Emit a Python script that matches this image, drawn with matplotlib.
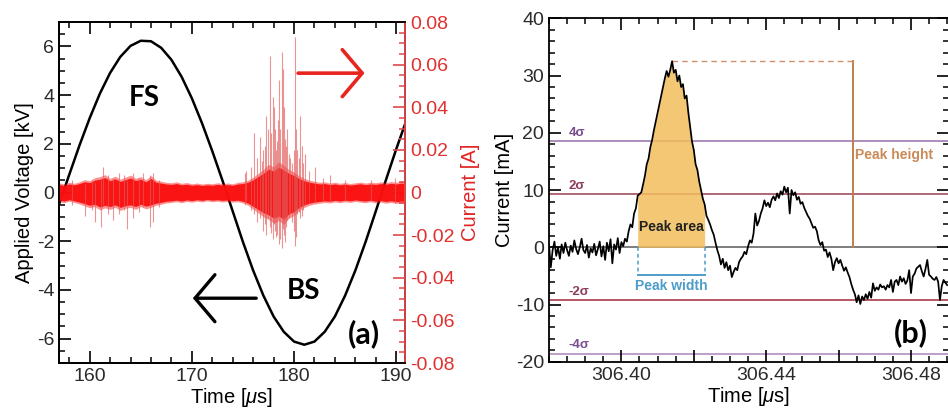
from __future__ import annotations

import matplotlib

matplotlib.use("Agg")

import matplotlib.pyplot as plt
import numpy as np
from matplotlib.ticker import FixedLocator, FuncFormatter, MultipleLocator


# ---------------- panel (a): applied voltage + discharge current ----------------
volt_time_us = [157, 158, 159, 160, 161, 162, 163, 164, 165, 166, 167, 168, 169, 170, 171, 172,
                173, 174, 175, 176, 177, 178, 179, 180, 181, 182, 183, 184, 185, 186, 187, 188,
                189, 190, 191]
volt_kv = [-0.49, 0.73, 1.93, 3.05, 4.06, 4.91, 5.57, 6.02, 6.23, 6.21, 5.94, 5.45, 4.75, 3.87,
           2.84, 1.70, 0.49, -0.77, -2.03, -3.20, -4.23, -5.09, -5.72, -6.12, -6.25, -6.12, -5.72,
           -5.09, -4.23, -3.20, -2.03, -0.77, 0.52, 1.78, 2.97]

# envelope of the dense noise band of the current signal (every 0.5 us)
band_time_us = [157.0, 157.5, 158.0, 158.5, 159.0, 159.5, 160.0, 160.5, 161.0, 161.5, 162.0,
                162.5, 163.0, 163.5, 164.0, 164.5, 165.0, 165.5, 166.0, 166.5, 167.0, 167.5,
                168.0, 168.5, 169.0, 169.5, 170.0, 170.5, 171.0, 171.5, 172.0, 172.5, 173.0,
                173.5, 174.0, 174.5, 175.0, 175.5, 176.0, 176.5, 177.0, 177.5, 178.0, 178.5,
                179.0, 179.5, 180.0, 180.5, 181.0, 181.5, 182.0, 182.5, 183.0, 183.5, 184.0,
                184.5, 185.0, 185.5, 186.0, 186.5, 187.0, 187.5, 188.0, 188.5, 189.0, 189.5,
                190.0, 190.5, 191.0]
band_hi_a = [0.0038, 0.0033, 0.0040, 0.0036, 0.0042, 0.0050, 0.0046, 0.0058, 0.0062, 0.0070,
             0.0055, 0.0064, 0.0052, 0.0060, 0.0068, 0.0056, 0.0062, 0.0050, 0.0066, 0.0048,
             0.0044, 0.0040, 0.0038, 0.0042, 0.0036, 0.0039, 0.0034, 0.0037, 0.0033, 0.0036,
             0.0034, 0.0038, 0.0035, 0.0037, 0.0034, 0.0040, 0.0042, 0.0048, 0.0060, 0.0075,
             0.0090, 0.0110, 0.0100, 0.0120, 0.0105, 0.0090, 0.0080, 0.0065, 0.0055, 0.0048,
             0.0044, 0.0040, 0.0042, 0.0037, 0.0040, 0.0036, 0.0039, 0.0035, 0.0038, 0.0041,
             0.0037, 0.0040, 0.0038, 0.0042, 0.0039, 0.0043, 0.0040, 0.0044, 0.0041]
band_lo_a = [-0.0036, -0.0040, -0.0034, -0.0039, -0.0045, -0.0052, -0.0060, -0.0055, -0.0068,
             -0.0060, -0.0066, -0.0058, -0.0070, -0.0062, -0.0058, -0.0066, -0.0055, -0.0064,
             -0.0058, -0.0050, -0.0046, -0.0041, -0.0039, -0.0036, -0.0040, -0.0035, -0.0038,
             -0.0034, -0.0037, -0.0033, -0.0036, -0.0034, -0.0037, -0.0035, -0.0038, -0.0036,
             -0.0041, -0.0050, -0.0065, -0.0080, -0.0095, -0.0105, -0.0120, -0.0110, -0.0125,
             -0.0100, -0.0090, -0.0070, -0.0058, -0.0050, -0.0045, -0.0042, -0.0039, -0.0041,
             -0.0037, -0.0040, -0.0036, -0.0039, -0.0035, -0.0038, -0.0040, -0.0036, -0.0041,
             -0.0038, -0.0042, -0.0039, -0.0043, -0.0040, -0.0042]

# individual discharge spikes
spike_time_us = [158.3, 159.5, 160.2, 160.5, 161.1, 161.3, 161.8, 162.3, 162.9, 163.4, 163.7,
                 164.2, 164.8, 165.2, 165.9, 166.2, 166.8,
                 175.2, 175.3, 175.8, 176.1, 176.4, 176.7, 176.9, 177.0, 177.15, 177.3, 177.45,
                 177.6, 177.75, 177.9, 178.0, 178.1, 178.2, 178.3, 178.4, 178.5, 178.65, 178.8,
                 178.9, 179.0, 179.1, 179.2, 179.35, 179.5, 179.65, 179.8, 179.95, 180.1, 180.2,
                 180.3, 180.45, 180.6, 180.75, 180.9, 181.1, 181.5, 182.1, 182.8, 183.5, 185.0,
                 187.5, 189.9]
spike_lo_a = [-0.006, -0.011, -0.008, -0.014, -0.016, -0.006, -0.010, -0.013, -0.010, -0.008,
              -0.017, -0.012, -0.009, -0.007, -0.016, -0.014, -0.007,
              -0.006, -0.004, -0.008, -0.010, -0.014, -0.012, -0.009, -0.018, -0.015, -0.020,
              -0.012, -0.016, -0.019, -0.022, -0.015, -0.018, -0.021, -0.020, -0.012, -0.024,
              -0.022, -0.026, -0.017, -0.020, -0.023, -0.016, -0.013, -0.012, -0.010, -0.014,
              -0.018, -0.025, -0.021, -0.010, -0.009, -0.012, -0.011, -0.008, -0.006, -0.005,
              -0.005, -0.004, -0.004, -0.004, -0.004, -0.005]
spike_hi_a = [0.006, 0.004, 0.006, 0.005, 0.007, 0.012, 0.008, 0.007, 0.009, 0.008, 0.006,
              0.009, 0.007, 0.009, 0.008, 0.009, 0.006,
              0.009, 0.010, 0.012, 0.028, 0.016, 0.026, 0.015, 0.020, 0.022, 0.036, 0.030,
              0.064, 0.028, 0.045, 0.040, 0.030, 0.020, 0.024, 0.034, 0.053, 0.030, 0.066,
              0.058, 0.040, 0.025, 0.022, 0.030, 0.018, 0.016, 0.014, 0.020, 0.073, 0.030,
              0.020, 0.016, 0.036, 0.022, 0.014, 0.018, 0.010, 0.012, 0.007, 0.008, 0.006,
              0.006, 0.007]

# ---------------- panel (b): single current pulse ----------------
pulse_t0_us = 306.38
pulse_dt_us = 0.0005
pulse_ma = [
    0.5, -3.5, -0.5, 1.0, -1.5, 0.0, -2.0, 0.5, -1.0, 0.8, -0.5, -1.5, 0.3, -0.8, 1.2, -0.3,
    -1.2, 0.0, 1.5, -0.5, -1.0, 0.4, -1.8, -0.2, -0.9, 0.6, -1.4, -0.3, 1.0, -1.6, 0.2, -2.2,
    0.8, -0.7, 1.4, -2.8, 0.5, -0.4, 1.6, -1.0, 0.9, 0.2, 1.5,
    1.0, 2.8, 4.0, 3.5, 5.9, 6.8,
    9.0, 9.3, 9.6, 11.0, 12.5, 14.5, 15.5, 17.5, 18.8, 20.5, 22.0, 23.5, 25.0, 26.5, 28.0,
    29.5, 30.8, 29.8, 31.0, 32.5,
    30.5, 31.0, 29.0, 30.0, 28.0, 28.5, 26.0, 26.5, 23.5, 21.0, 18.5, 17.0, 14.5, 13.5, 11.5,
    10.0, 8.5, 7.5,
    5.5, 4.8, 4.0, 3.0, 2.2, 0.8, -0.5, -1.5, -3.0, -2.0,
    -3.6, -2.6, -4.0, -3.2, -5.2, -4.3, -3.6, -4.0, -2.6, -2.0,
    -1.6, -0.8, -1.2, 0.2, 1.2, 0.8, 2.4, 5.9, 3.8, 4.6,
    5.9, 6.8, 8.2, 7.2, 7.8, 7.0, 8.3, 8.9, 8.2, 9.4,
    8.6, 9.8, 9.2, 10.6, 9.6, 10.4, 5.9, 10.0, 9.1, 9.6,
    8.3, 8.8, 7.6, 7.9, 6.9, 6.2, 5.5, 5.0, 4.2, 3.4,
    3.6, 2.8, 1.2, 0.4, 0.9, -0.6, -0.4, -1.7, -0.9, -2.0,
    -4.0, -2.6, -1.9, -2.8, -2.2, -3.2, -4.1, -3.5, -4.4, -5.2,
    -6.4, -7.4, -8.2, -9.6, -8.4, -9.9, -8.6, -9.2, -8.2, -9.0,
    -7.8, -8.8, -6.3, -7.6, -7.0, -7.4, -6.5, -7.0, -6.8, -7.4,
    -6.6, -7.0, -5.7, -7.8, -6.0, -5.7, -6.6, -5.1, -6.0, -5.4,
    -6.4, -5.8, -4.0, -8.0, -5.1, -4.6, -3.7, -3.4, -3.1, -4.2,
    -5.1, -3.8, -2.2, -4.8, -5.1, -5.5, -5.7, -5.2, -6.0, -9.2,
    -6.8, -5.7, -6.2, -6.6,
]

sigma_ma = 4.64
sigma_multiples = [4, 2, -2, -4]
sigma_labels = ["4σ", "2σ", "-2σ", "-4σ"]

peak_start_us = 306.4045
peak_end_us = 306.4232
peak_time_us = 306.4139
peak_height_ma = 32.5
height_marker_us = 306.464
width_bracket_ma = -4.9

pulse_xticks = [306.40, 306.42, 306.44, 306.46, 306.48]
pulse_xticklabels = ["306.40", "", "306.44", "", "306.48"]


RED = "#fa1010"
TICK_COLOR = "#2b2b2b"
LABEL_FONT = ["Lato", "DejaVu Sans"]


def _setup_style() -> None:
    plt.rcParams.update(
        {
            "font.family": ["Liberation Sans", "DejaVu Sans"],
            "font.size": 13,
            "axes.unicode_minus": False,
            "mathtext.fontset": "custom",
            "mathtext.rm": "Liberation Sans",
            "mathtext.it": "Liberation Sans:italic",
            "axes.linewidth": 1.3,
            "xtick.direction": "in",
            "ytick.direction": "in",
            "xtick.major.size": 8.5,
            "ytick.major.size": 8.5,
            "xtick.minor.size": 4.2,
            "ytick.minor.size": 4.2,
            "xtick.major.width": 1.2,
            "ytick.major.width": 1.2,
            "xtick.minor.width": 1.1,
            "ytick.minor.width": 1.1,
            "xtick.labelsize": 14,
            "ytick.labelsize": 14,
            "axes.labelsize": 14.5,
        }
    )


def _plain(v, _pos):
    return f"{v:g}"


def draw_panel_a(fig: plt.Figure) -> None:
    ax = fig.add_axes([59 / 948, 1 - 363 / 417, 346 / 948, 341 / 417])
    ax.plot(volt_time_us, volt_kv, color="black", lw=1.8, zorder=2)
    ax.set_xlim(157, 190.86)
    ax.set_ylim(-7, 7)
    ax.xaxis.set_major_locator(MultipleLocator(10))
    ax.xaxis.set_minor_locator(MultipleLocator(2))
    ax.yaxis.set_major_locator(MultipleLocator(2))
    ax.yaxis.set_minor_locator(MultipleLocator(0.5))
    ax.yaxis.set_major_formatter(FuncFormatter(_plain))
    ax.tick_params(which="both", top=True, right=False, colors="black", labelcolor=TICK_COLOR)
    ax.set_xlabel(r"Time [$\mu$s]", labelpad=1)
    ax.set_ylabel("Applied Voltage [kV]", labelpad=2)

    ax.text(165.3, 3.9, "FS", fontsize=20, fontweight="bold", family=LABEL_FONT,
            ha="center", va="center")
    ax.text(180.9, -4.05, "BS", fontsize=20, fontweight="bold", family=LABEL_FONT,
            ha="center", va="center")
    ax.text(186.8, -5.8, "(a)", fontsize=22, fontweight="bold", family=LABEL_FONT,
            ha="center", va="center")
    ax.annotate("", xy=(170.1, -4.34), xytext=(176.3, -4.34),
                arrowprops=dict(arrowstyle="->,head_length=0.55,head_width=0.65", color="black",
                                lw=2.4, mutation_scale=26, shrinkA=0, shrinkB=0))

    ax2 = ax.twinx()
    ax2.set_ylim(-0.08, 0.08)
    # soft fringe + dense core of the noise band
    ax2.fill_between(band_time_us, np.array(band_lo_a) * 1.2, np.array(band_hi_a) * 1.2,
                     color=RED, lw=0, alpha=0.45, zorder=2)
    ax2.fill_between(band_time_us, band_lo_a, band_hi_a, color=RED, lw=0, alpha=0.97, zorder=2)
    ax2.vlines(spike_time_us, spike_lo_a, spike_hi_a, color="#e25a5a", lw=0.8, alpha=0.65, zorder=3)
    ax2.yaxis.set_major_locator(MultipleLocator(0.02))
    ax2.yaxis.set_minor_locator(MultipleLocator(0.005))
    ax2.yaxis.set_major_formatter(FuncFormatter(_plain))
    ax2.tick_params(which="both", colors="#e04848", labelcolor="#e03030")
    ax2.spines["right"].set_color("#e04848")
    ax2.set_ylabel("Current [A]", color="#e02424", labelpad=5)
    ax2.annotate("", xy=(186.9, 0.056), xytext=(180.4, 0.056),
                 arrowprops=dict(arrowstyle="->,head_length=0.55,head_width=0.65", color="#e8251f",
                                 lw=2.6, mutation_scale=26, shrinkA=0, shrinkB=0))


def draw_panel_b(fig: plt.Figure) -> None:
    ax = fig.add_axes([549 / 948, 1 - 361.8 / 417, 400 / 948, 343.5 / 417])
    t = pulse_t0_us + pulse_dt_us * np.arange(len(pulse_ma))
    cur = np.array(pulse_ma)

    line_colors = {4: "#a586b5", 2: "#a85a6c", -2: "#b04a5c", -4: "#b796c4"}
    text_colors = {4: "#7b4e90", 2: "#8c3c5e", -2: "#8c3c5e", -4: "#7b4e90"}
    for k, lab in zip(sigma_multiples, sigma_labels):
        y = k * sigma_ma
        ax.axhline(y, color=line_colors[k], lw=1.3, zorder=1)
        ax.text(306.3855, y + 0.4, lab, color=text_colors[k], fontsize=9.5, fontweight="bold",
                ha="left", va="bottom")
    ax.axhline(0, color="#5a5a5a", lw=1.1, zorder=1)

    mask = (t >= peak_start_us - 1e-9) & (t <= peak_end_us + 1e-9)
    ax.fill_between(t, 0, cur, where=mask, color="#f3bd5c", alpha=0.85, lw=0, zorder=2)
    ax.plot(t, cur, color="black", lw=1.25, zorder=4)

    ax.plot([height_marker_us, height_marker_us], [0, peak_height_ma], color="#c0804c", lw=1.4,
            zorder=3)
    ax.plot([peak_time_us, height_marker_us], [peak_height_ma, peak_height_ma], color="#d0906a",
            lw=1.0, ls=(0, (4, 3)), zorder=3)
    ax.text(306.4752, 16.1, "Peak height", color="#c98a58", fontsize=10, fontweight="bold",
            ha="center", va="center")

    bracket = "#4d9dc9"
    for x in (peak_start_us, peak_end_us):
        ax.plot([x, x], [0, width_bracket_ma], color=bracket, lw=1.1, ls=(0, (2.5, 2)), zorder=3)
    ax.plot([peak_start_us, peak_end_us], [width_bracket_ma, width_bracket_ma], color=bracket,
            lw=1.4, zorder=3)
    ax.text((peak_start_us + peak_end_us) / 2, -6.7, "Peak width", color=bracket, fontsize=10,
            fontweight="bold", ha="center", va="center")
    ax.text((peak_start_us + peak_end_us) / 2, 3.6, "Peak area", color="#222222", fontsize=10,
            fontweight="bold", ha="center", va="center", zorder=5)

    ax.text(306.4801, -15.0, "(b)", fontsize=22, fontweight="bold", family=LABEL_FONT,
            ha="center", va="center")

    ax.set_xlim(306.38, 306.4905)
    ax.set_ylim(-20, 40)
    ax.xaxis.set_major_locator(FixedLocator(pulse_xticks))
    ax.set_xticklabels(pulse_xticklabels)
    ax.xaxis.set_minor_locator(MultipleLocator(0.005))
    ax.yaxis.set_major_locator(MultipleLocator(10))
    ax.yaxis.set_minor_locator(MultipleLocator(2))
    ax.tick_params(which="both", top=True, right=True, labelcolor=TICK_COLOR)
    ax.set_xlabel(r"Time [$\mu$s]", labelpad=1)
    ax.set_ylabel("Current [mA]", labelpad=1)


def main() -> None:
    _setup_style()
    fig = plt.figure(figsize=(9.48, 4.17), dpi=100, facecolor="white")
    draw_panel_a(fig)
    draw_panel_b(fig)
    fig.savefig("out.png", dpi=100, facecolor="white")
    plt.close(fig)


if __name__ == "__main__":
    main()
